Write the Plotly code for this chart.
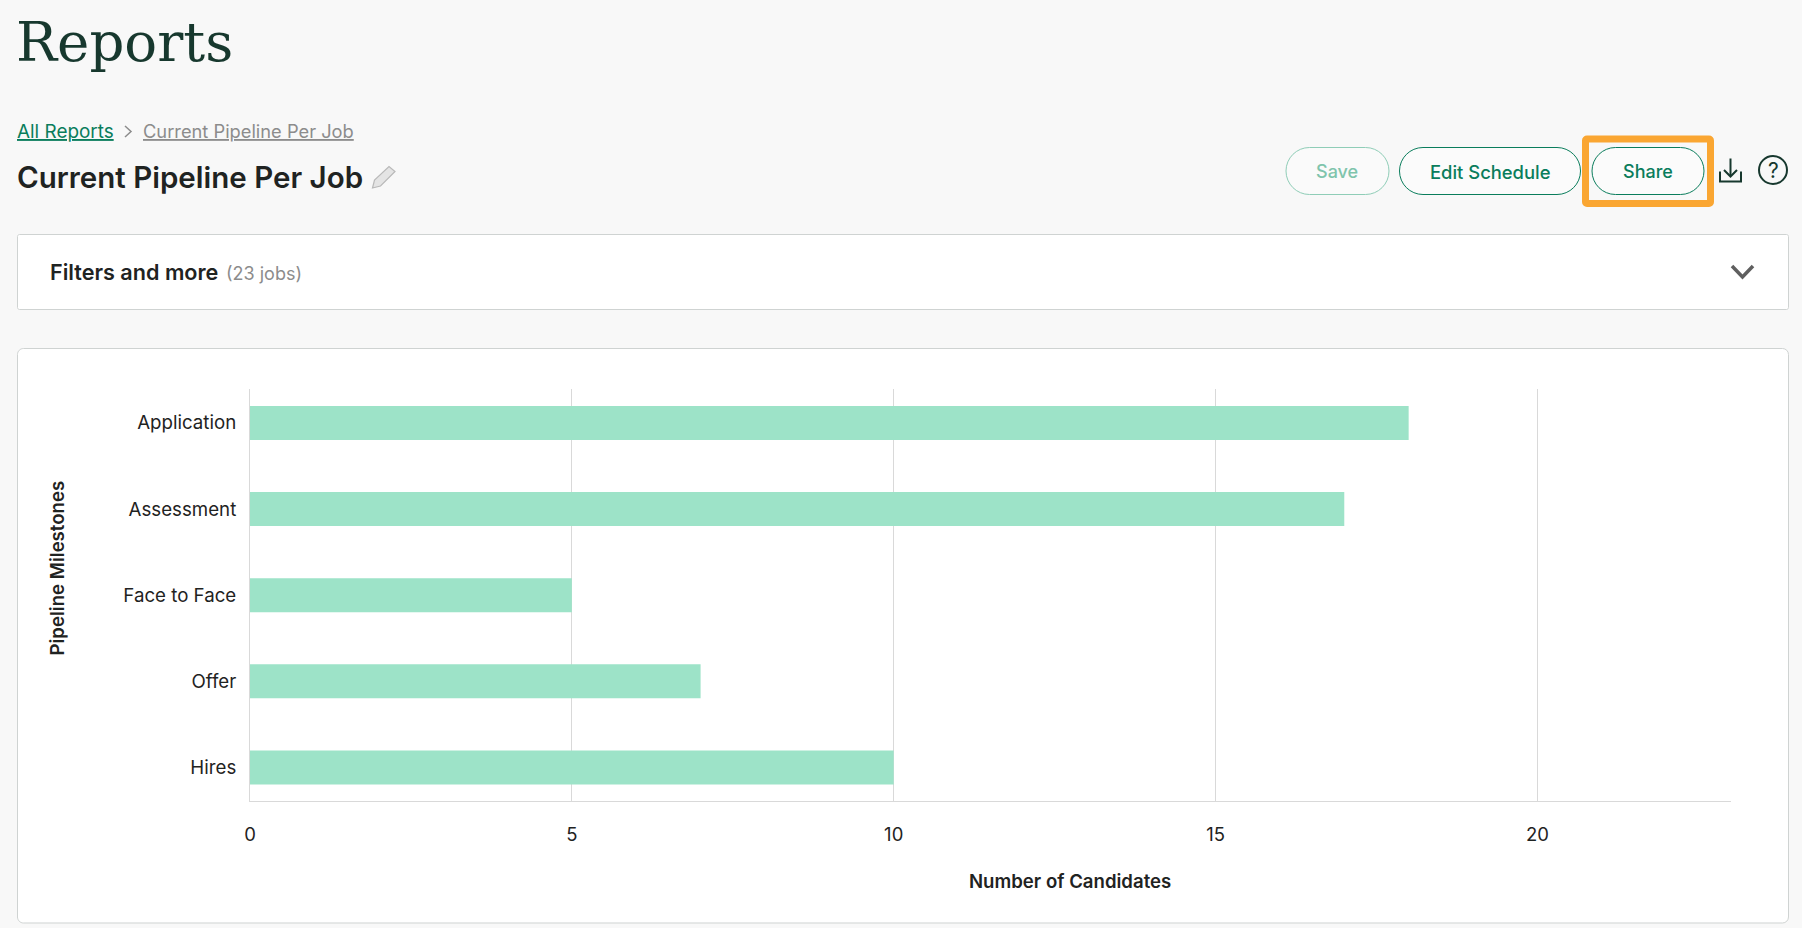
import plotly.graph_objects as go

# ---- chart data ----
milestones = ["Application", "Assessment", "Face to Face", "Offer", "Hires"]
candidates = [18, 17, 5, 7, 10]
x_ticks = [0, 5, 10, 15, 20]
x_title = "Number of Candidates"
y_title = "Pipeline Milestones"

W, H = 1802, 928
SANS = "Inter, 'Noto Sans', sans-serif"
SERIF = "'DejaVu Serif', serif"
GREEN = "#0a7d5c"
INK = "#1f2322"
BAR = "#9de3c8"
GRID = "#d9d9d9"


def px(x):
    return x / W


def py(y):
    return 1 - y / H


def path(cmds):
    out = []
    for c in cmds:
        if isinstance(c, str):
            out.append(c)
        else:
            out.append(f"{px(c[0]):.6f},{py(c[1]):.6f}")
    return " ".join(out)


def rounded(x0, y0, x1, y1, r):
    k = r * 0.448
    return path([
        "M", (x0 + r, y0), "L", (x1 - r, y0),
        "C", (x1 - k, y0), (x1, y0 + k), (x1, y0 + r),
        "L", (x1, y1 - r),
        "C", (x1, y1 - k), (x1 - k, y1), (x1 - r, y1),
        "L", (x0 + r, y1),
        "C", (x0 + k, y1), (x0, y1 - k), (x0, y1 - r),
        "L", (x0, y0 + r),
        "C", (x0, y0 + k), (x0 + k, y0), (x0 + r, y0), "Z",
    ])


shapes, notes = [], []


def add_shape(d, line=None, width=1, fill=None, layer="below"):
    shapes.append(dict(type="path", xref="paper", yref="paper", path=d, layer=layer,
                       line=dict(color=line or "rgba(0,0,0,0)", width=width if line else 0),
                       fillcolor=fill or "rgba(0,0,0,0)"))


def add_text(x, y, text, size, color, family=SANS, weight=400, anchor="left", under=False, angle=0):
    font = dict(family=family, size=size, color=color, weight=weight)
    if under:
        font["lineposition"] = "under"
    notes.append(dict(xref="paper", yref="paper", x=px(x), y=py(y), text=text, showarrow=False,
                      xanchor=anchor, yanchor="middle", font=font, textangle=angle, borderpad=0,
                      borderwidth=0))


# panels
add_shape(rounded(17.5, 234.5, 1788.5, 309.5, 2), line="#cfd3d2", fill="#ffffff")
add_shape(rounded(17.5, 348.5, 1788.5, 923, 6), line="#cfd3d2", fill="#ffffff")

# buttons
add_shape(rounded(1286, 147.5, 1389, 194.5, 23.5), line="#8fcdb7", fill="#fafafa")
add_shape(rounded(1399.5, 147.5, 1580.5, 194.5, 23.5), line=GREEN, fill="#fbfbfb")
add_shape(rounded(1592, 147.5, 1704, 194.5, 23.5), line=GREEN, fill="#fbfbfb")
add_shape(rounded(1585.5, 139, 1710.5, 203.5, 1.5), line="#faa632", width=7)

# download icon
add_shape(path(["M", (1730.5, 158.5), "L", (1730.5, 176)]), line="#17382e", width=2)
add_shape(path(["M", (1724, 170), "L", (1730.5, 176.5), "L", (1737, 170)]), line="#17382e", width=2)
add_shape(path(["M", (1720, 171.5), "L", (1720, 181.5), "L", (1741, 181.5), "L", (1741, 171.5)]),
          line="#17382e", width=2)
# help icon
add_shape(rounded(1759, 156, 1787, 184, 14), line="#17382e", width=2)
# filter chevron
add_shape(path(["M", (1732, 266), "L", (1742.5, 277), "L", (1753, 266)]), line="#5f5f5f", width=3.5)
# breadcrumb chevron
add_shape(path(["M", (125, 126), "L", (131, 131.5), "L", (125, 137)]), line="#8c8c8c", width=1.5)
# pencil
add_shape(path(["M", (372.5, 188), "L", (374.5, 180), "L", (389, 166.5), "L", (395, 171.5),
                "L", (380.5, 186), "Z"]), line="#b9b9b9", width=1.2, fill="#e4e4e4")

# page text
add_text(16, 42, "Reports", 54.6, "#17382e", family=SERIF)
add_text(17, 131, "All Reports", 18.9, GREEN, under=True)
add_text(143, 131, "Current Pipeline Per Job", 18.3, "#8c8c8c", under=True)
add_text(17, 177, "Current Pipeline Per Job", 29.5, INK, weight=600)
add_text(50, 272, "Filters and more", 21.6, INK, weight=600)
add_text(226, 273, "(23 jobs)", 18, "#8c8c8c")
add_text(1337, 171.7, "Save", 18, "#7fc4ac", weight=500, anchor="center")
add_text(1490, 171.7, "Edit Schedule", 18.4, GREEN, weight=500, anchor="center")
add_text(1648, 171.7, "Share", 18, GREEN, weight=500, anchor="center")
add_text(1773, 170, "?", 21, "#17382e", anchor="center")

# axis titles
add_text(1070, 881, x_title, 18.6, INK, weight=600, anchor="center")
add_text(56.5, 568, y_title, 18.6, INK, weight=600, anchor="center", angle=-90)

fig = go.Figure(go.Bar(x=candidates, y=milestones, orientation="h", width=0.395,
                       marker=dict(color=BAR, line=dict(width=0)), hoverinfo="skip"))
fig.update_layout(
    width=W, height=H, autosize=False,
    margin=dict(l=0, r=0, t=0, b=0),
    paper_bgcolor="#f8f8f8", plot_bgcolor="rgba(0,0,0,0)",
    showlegend=False, shapes=shapes, annotations=notes,
    font=dict(family=SANS, size=18, color=INK),
    xaxis=dict(domain=[px(250), px(1730.5)], range=[0, 23], tickvals=x_ticks,
               showgrid=True, gridcolor=GRID, gridwidth=1, zeroline=False,
               showline=True, linecolor=GRID, linewidth=1, ticks="",
               ticklabelstandoff=17, tickfont=dict(size=18.5, color=INK),
               automargin=False),
    yaxis=dict(domain=[py(801), py(388.5)], type="category", range=[4.39, -0.4],
               showgrid=False, zeroline=False, showline=True, linecolor=GRID, linewidth=1, ticks="",
               ticklabelstandoff=9, tickfont=dict(size=18.7, color=INK),
               automargin=False),
)
fig.write_html("out.html", post_script="document.body.style.margin='0';document.body.style.overflow='hidden';document.body.style.background='#f8f8f8';",
               config=dict(displayModeBar=False))
